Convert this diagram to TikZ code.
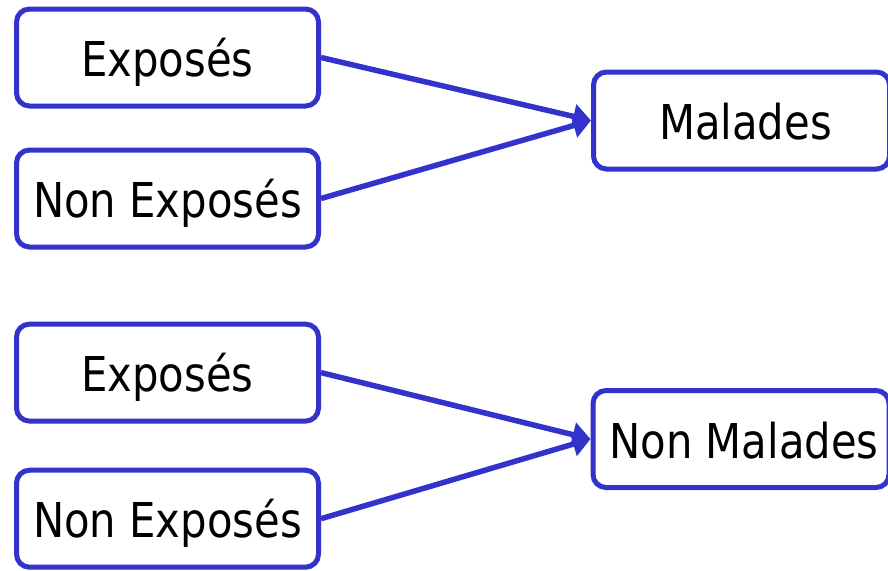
\documentclass[tikz,border=0pt]{standalone}
\usepackage{fontspec}
\setmainfont[FakeStretch=0.87]{DejaVu Sans}
\usetikzlibrary{arrows.meta}
\definecolor{boxblue}{RGB}{51,51,204}
\tikzset{
  box/.style={draw=boxblue, line width=5pt, rounded corners=13pt, fill=white,
    minimum height=97pt, inner sep=0pt, text height=38pt, text depth=0pt,
    font=\fontsize{48}{58}\selectfont},
  leftbox/.style={box, minimum width=302pt},
  rightbox/.style={box, minimum width=296pt},
  link/.style={draw=boxblue, line width=5.5pt,
    -{Triangle[length=18pt,width=24pt]}},
}
\begin{document}
\begin{tikzpicture}[x=1pt,y=-1pt]
  \useasboundingbox (0,0) rectangle (888,570);
  \clip (0,0) rectangle (888,570);

  % upper group
  \node[leftbox] (expA) at (167.5,57.5) {Exposés};
  \node[leftbox] (nonexpA) at (167.5,198.5) {Non Exposés};
  \node[rightbox] (mal) at (741.5,120.5) {\hspace*{8pt}Malades};

  % lower group
  \node[leftbox] (expB) at (167.5,372.6) {Exposés};
  \node[leftbox] (nonexpB) at (167.5,518.7) {Non Exposés};
  \node[rightbox] (nonmal) at (741,439) {\hspace*{6pt}Non Malades};

  \draw[link] (expA.east) -- (mal.west);
  \draw[link] (nonexpA.east) -- (mal.west);
  \draw[link] (expB.east) -- (nonmal.west);
  \draw[link] (nonexpB.east) -- (nonmal.west);
\end{tikzpicture}
\end{document}
